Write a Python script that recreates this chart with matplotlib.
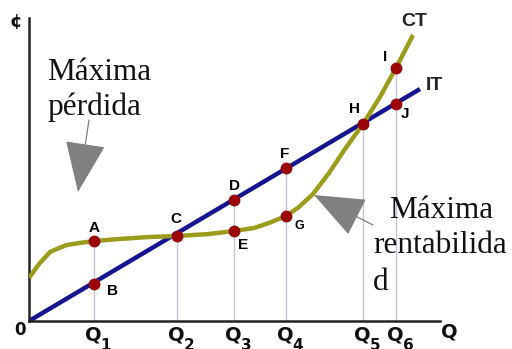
import matplotlib.pyplot as plt

# Ingreso total (IT): recta desde el origen
it_x = [0, 391]
it_y = [0, 232]

# Costo total (CT)
ct_x = [0, 10, 21, 30, 38, 50, 66, 90, 120, 148, 180, 205, 225, 240, 257,
        270, 284, 300, 316, 334, 351, 367, 384]
ct_y = [43, 57, 69, 73, 76, 78, 80, 82, 84, 85, 87, 90, 93, 98, 105,
        114, 127, 148, 172, 197, 224, 253, 286]

# Puntos marcados
pt_names = ['A', 'B', 'C', 'D', 'E', 'F', 'G', 'H', 'I', 'J']
pt_x = [65, 65, 148, 205, 205, 257, 257, 334, 367, 367]
pt_y = [80, 37, 85, 121, 90, 153, 105, 197, 253, 217]
# desplazamiento de la etiqueta (px)
pt_dx = [0, 18, -1, 0, 9, -1, 13, -8, -11, 9]
pt_dy = [13, -7, 17, 14, -14, 14, -10, 15, 11, -10]
pt_size = [11, 11, 11, 11, 11, 11, 9, 11, 11, 11]

# Cantidades Q1..Q6 (línea vertical hasta el punto superior)
q_x = [65, 148, 205, 257, 334, 367]
q_top = [80, 85, 121, 153, 197, 253]
q_sub = ['1', '2', '3', '4', '5', '6']

fig = plt.figure(figsize=(5.12, 3.49), dpi=100)
ax = fig.add_axes([29 / 512, 28 / 349, 411 / 512, 303 / 349])
ax.set_xlim(0, 411)
ax.set_ylim(0, 303)
for s in ['top', 'right']:
    ax.spines[s].set_visible(False)
for s in ['left', 'bottom']:
    ax.spines[s].set_linewidth(1.8)
    ax.spines[s].set_color('#222222')
ax.set_xticks([])
ax.set_yticks([])

for x, top in zip(q_x, q_top):
    ax.plot([x, x], [0, top], color='#c9c2d9', lw=1.0, zorder=1)

ax.plot(it_x, it_y, color='#15168f', lw=3.2, solid_capstyle='butt', zorder=2)
ax.plot(ct_x, ct_y, color='#9c9c1c', lw=3.2, solid_capstyle='butt', zorder=3)
ax.plot(pt_x, pt_y, 'o', color='#9a0505', ms=7.5, zorder=4)

for n, x, y, dx, dy, fs in zip(pt_names, pt_x, pt_y, pt_dx, pt_dy, pt_size):
    ax.annotate(n, (x, y), xytext=(dx * 0.72, dy * 0.72), textcoords='offset points',
                ha='center', va='center', fontsize=fs, fontweight='bold',
                family='Liberation Sans')

sans = dict(family='DejaVu Sans', fontweight='bold', color='#111111')
for x, sub in zip(q_x, q_sub):
    ax.text(x - 1, -14, 'Q', ha='center', va='center', fontsize=14, **sans)
    ax.text(x + 12, -25, sub, ha='center', va='center', fontsize=11, **sans)
ax.text(420, -11, 'Q', ha='center', va='center', fontsize=14, **sans)
ax.text(-9, -9, '0', ha='center', va='center', fontsize=12, **sans)
ax.text(-13, 299, '¢', ha='center', va='center', fontsize=13, **sans)
ax.text(372, 299, 'CT', ha='left', va='center', fontsize=14,
        family='Liberation Sans', fontweight='bold', color='#222222')
ax.text(397, 235, 'IT', ha='left', va='center', fontsize=14,
        family='Liberation Sans', fontweight='bold', color='#222222')

serif = dict(family='Liberation Serif', fontsize=22.5, color='#111111', va='baseline')
ax.text(18, 241, 'Máxima', **serif)
ax.text(18, 206, 'pérdida', **serif)
ax.text(360, 103, 'Máxima', **serif)
ax.text(344, 68, 'rentabilida', **serif)
ax.text(344, 31, 'd', **serif)

arrow = dict(arrowstyle='-|>,head_length=1.5,head_width=0.6', color='#808080',
             lw=0.9, mutation_scale=22, shrinkA=0, shrinkB=0)
ax.annotate('', xy=(49, 129), xytext=(60, 201), arrowprops=arrow, annotation_clip=False)
ax.annotate('', xy=(285, 126), xytext=(344, 96), arrowprops=arrow, annotation_clip=False)

fig.savefig('out.png', dpi=100)
